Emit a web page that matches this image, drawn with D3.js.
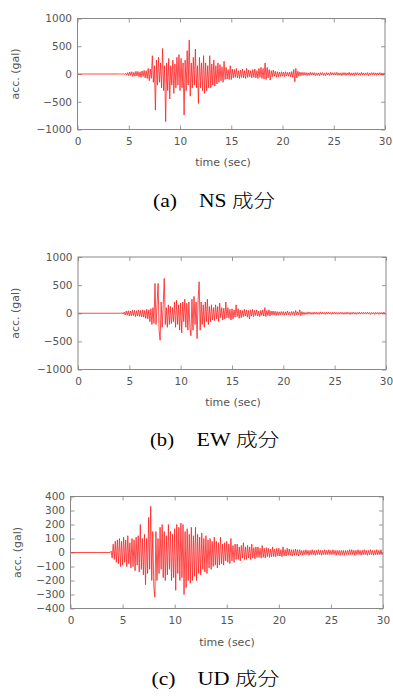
<!DOCTYPE html>
<html><head><meta charset="utf-8">
<script src="https://cdn.jsdelivr.net/npm/d3@7"></script>
<style>
html,body{margin:0;padding:0;background:#fff;}
svg{display:block;}
</style></head>
<body>
<svg id="c" width="393" height="698"></svg>
<script>
// ---------- DATA ----------
const xTicks = [0, 5, 10, 15, 20, 25, 30];
const yTicksHoriz = [-1000, -500, 0, 500, 1000];
const yTicksUD = [-400, -300, -200, -100, 0, 100, 200, 300, 400];
const xLabel = "time (sec)";
const yLabel = "acc. (gal)";
const captionTags = ["(a)", "(b)", "(c)"];
const captionNames = ["NS 成分", "EW 成分", "UD 成分"];

// acceleration samples, step 0.1 s
const nsStart = 4.0;
const nsValues = [
0,0,0,0,0,5,-10,15,-20,25,
-30,35,-25,40,-45,30,-40,50,-35,45,
-50,40,-60,55,-45,65,-70,60,-80,100,
-120,90,-80,330,-150,150,-650,250,-200,300,
-150,200,-250,460,-300,150,-860,200,-300,280,
-450,150,-200,250,-350,180,-250,300,-200,350,
-300,280,-250,200,-740,250,-300,420,-200,610,
-400,200,-250,300,-200,450,-250,150,-530,300,
-250,200,-300,330,-350,200,-300,150,-250,330,
-250,180,-200,250,-220,150,-180,200,-150,170,
-120,130,-150,230,-100,120,-90,80,-100,150,
-100,90,-70,80,-60,100,-70,60,-80,70,
-60,90,-70,60,-80,100,-60,70,-50,60,
-70,80,-60,90,-70,60,-80,100,-60,120,
-80,100,-90,200,-100,120,-70,80,-110,60,
-50,70,-40,50,-60,40,-50,35,-45,40,
-40,35,-45,40,-35,30,-40,35,-50,45,
-60,80,-140,100,-70,50,-40,35,-30,30,
-25,30,-20,25,-30,20,-25,30,-20,25,
-20,25,-30,20,-25,20,-30,25,-20,25,
-25,20,-30,25,-20,20,-25,30,-20,25,
-20,25,-20,30,-25,20,-25,20,-30,25,
-20,25,-25,20,-20,30,-25,20,-25,20,
-30,25,-20,25,-20,20,-25,30,-20,20,
-25,20,-20,25,-30,20,-20,25,-20,25,
-20,20,-25,20,-20,25,-20,20,-25,20,
0];

const ewStart = 4.0;
const ewValues = [
0,0,0,10,-15,20,-30,40,-35,45,
-50,40,-45,55,-40,50,-60,45,-50,60,
-55,50,-65,60,-70,50,-90,70,-100,60,
-150,80,-200,100,-180,530,-200,150,530,-300,
-480,200,-250,150,620,-200,100,-250,150,-200,
120,-180,100,-150,200,-250,230,-200,150,-300,
180,-350,200,-150,250,-250,180,-300,200,-250,
-400,250,-300,300,-200,200,-450,250,560,-300,
200,-200,150,-250,200,-150,250,-200,120,-150,
150,-120,100,-130,150,-100,120,-150,180,-80,
100,-120,90,-100,200,-80,100,-90,70,-120,
80,-100,60,-70,150,-60,80,-90,60,-80,
50,-60,70,-50,60,-70,50,-100,60,-50,
70,-60,50,-40,60,-50,40,-60,50,-40,
60,-50,100,-60,50,-40,60,-50,40,-30,
40,-30,35,-40,30,-35,25,-30,30,-25,
30,-35,25,-30,40,-30,25,-35,30,-25,
30,-40,50,-30,25,-30,60,-40,30,-25,
20,-25,15,-20,25,-15,20,-20,15,-20,
20,-15,20,-20,15,-20,25,-15,20,-15,
15,-20,20,-15,20,-15,15,-20,20,-15,
20,-15,15,-20,15,-15,20,-15,15,-20,
15,-15,20,-15,15,-20,15,-15,20,-15,
15,-20,15,-15,20,-15,15,-15,20,-15,
15,-15,20,-15,15,-20,15,-15,15,-20,
15,-15,15,-20,15,-15,15,-15,20,-15,
0];

const udStart = 3.8;
const udValues = [
0,10,
-40,60,-50,80,-70,90,-80,100,-100,80,
-90,110,-70,90,-100,120,-80,70,-110,100,
-100,90,-130,110,-90,120,-140,200,-120,100,
-160,130,-230,100,-150,250,-120,330,-200,150,
-250,-320,150,-200,100,-150,180,-120,200,-180,
150,-200,120,-160,200,-120,150,-200,130,-180,
170,-270,200,-150,180,-200,210,-180,200,-300,
150,-250,170,-200,130,-220,180,-200,120,-170,
180,-200,130,-150,110,-160,140,-120,100,-140,
120,-150,90,-110,100,-120,80,-100,110,-90,
80,-110,70,-90,110,-80,60,-90,70,-60,
80,-70,60,-80,100,-60,50,-70,60,-50,
60,-50,40,-60,50,-40,70,-50,40,-50,
50,-40,40,-50,60,-40,35,-45,40,-35,
40,-35,30,-40,50,-35,30,-40,35,-30,
30,-35,25,-30,40,-30,25,-30,30,-25,
30,-25,20,-30,40,-25,20,-25,30,-20,
25,-20,20,-25,20,-20,25,-20,20,-25,
20,-15,15,-20,15,-15,20,-15,15,-20,
15,-15,20,-15,15,-20,15,-15,20,-15,
15,-20,15,-15,20,-15,15,-15,20,-15,
15,-15,20,-15,15,-20,15,-15,15,-20,
15,-15,15,-20,15,-15,15,-15,20,-15,
20,-15,15,-20,15,-15,20,-15,15,-20,
15,-15,20,-15,15,-20,15,-15,20,-15,
15,-20,15,-15,20,-15,15,-15,20,-15,
0];

// ---------- DRAW ----------
const svg = d3.select("#c");
const sans = "'DejaVu Sans', Verdana, sans-serif";
const serif = "'Liberation Serif', 'Times New Roman', serif";

function toSeries(start, vals) {
  const s = [[0, 0]];
  vals.forEach((v, i) => s.push([start + i * 0.1, v]));
  return s;
}

const panels = [
  {l: 77.5, r: 385, t: 18.5, b: 129.5, yMax: 1000, yT: yTicksHoriz, data: toSeries(nsStart, nsValues),
   ylx: 15, xlabX: 223, xlabY: 166, capY: 207, tagX: 153, nameX: 199, nameW: 76},
  {l: 78, r: 386, t: 257, b: 369.5, yMax: 1000, yT: yTicksHoriz, data: toSeries(ewStart, ewValues),
   ylx: 15, xlabX: 233, xlabY: 406, capY: 446, tagX: 150, nameX: 196.5, nameW: 83},
  {l: 70.5, r: 383, t: 496.5, b: 608.5, yMax: 400, yT: yTicksUD, data: toSeries(udStart, udValues),
   ylx: 17, xlabX: 227, xlabY: 646, capY: 685, tagX: 151.5, nameX: 197.5, nameW: 82}
];

panels.forEach((p, k) => {
  const x = d3.scaleLinear().domain([0, 30]).range([p.l, p.r]);
  const y = d3.scaleLinear().domain([-p.yMax, p.yMax]).range([p.b, p.t]);
  const g = svg.append("g");
  const fmt = d3.format("d");

  // inward ticks on all sides (gnuplot style)
  const tl = 4;
  const axB = g.append("g").attr("transform", `translate(0,${p.b})`)
    .call(d3.axisBottom(x).tickValues(xTicks).tickFormat(fmt).tickSizeInner(-tl).tickSizeOuter(0).tickPadding(8));
  const axT = g.append("g").attr("transform", `translate(0,${p.t})`)
    .call(d3.axisTop(x).tickValues(xTicks).tickSizeInner(-tl).tickSizeOuter(0).tickFormat(""));
  const axL = g.append("g").attr("transform", `translate(${p.l},0)`)
    .call(d3.axisLeft(y).tickValues(p.yT).tickFormat(fmt).tickSizeInner(-tl).tickSizeOuter(0).tickPadding(5.5));
  const axR = g.append("g").attr("transform", `translate(${p.r},0)`)
    .call(d3.axisRight(y).tickValues(p.yT).tickSizeInner(-tl).tickSizeOuter(0).tickFormat(""));
  [axB, axT, axL, axR].forEach(a => {
    a.select(".domain").remove();
    a.selectAll("line").attr("stroke", "#999");
    a.selectAll("text").attr("fill", "#555").style("font-family", sans).style("font-size", "10.5px");
  });

  // trace
  const line = d3.line().x(d => x(d[0])).y(d => y(d[1]));
  g.append("path").datum(p.data).attr("d", line)
    .attr("fill", "none").attr("stroke", "#f22").attr("stroke-width", 0.9)
    .attr("stroke-linejoin", "round").attr("opacity", 0.9);

  // frame
  g.append("rect").attr("x", p.l).attr("y", p.t).attr("width", p.r - p.l).attr("height", p.b - p.t)
    .attr("fill", "none").attr("stroke", "#888").attr("stroke-width", 1);

  // axis labels
  g.append("text").attr("x", p.xlabX).attr("y", p.xlabY).attr("text-anchor", "middle")
    .attr("fill", "#555").style("font-family", sans).style("font-size", "11px").text(xLabel);
  g.append("text").attr("transform", `translate(${p.ylx + 4},${(p.t + p.b) / 2}) rotate(-90)`)
    .attr("text-anchor", "middle").attr("fill", "#555").style("font-family", sans).style("font-size", "11px").text(yLabel);

  // caption
  g.append("text").attr("x", p.tagX).attr("y", p.capY).attr("fill", "#000")
    .attr("textLength", 24).attr("lengthAdjust", "spacingAndGlyphs")
    .style("font-family", serif).style("font-size", "18px").text(captionTags[k]);
  g.append("text").attr("x", p.nameX).attr("y", p.capY).attr("fill", "#000")
    .attr("textLength", p.nameW).attr("lengthAdjust", "spacingAndGlyphs")
    .style("font-family", serif + ", 'Noto Sans CJK JP'").style("font-weight", "300")
    .style("font-size", "18px").text(captionNames[k]);
});
</script>
</body></html>
